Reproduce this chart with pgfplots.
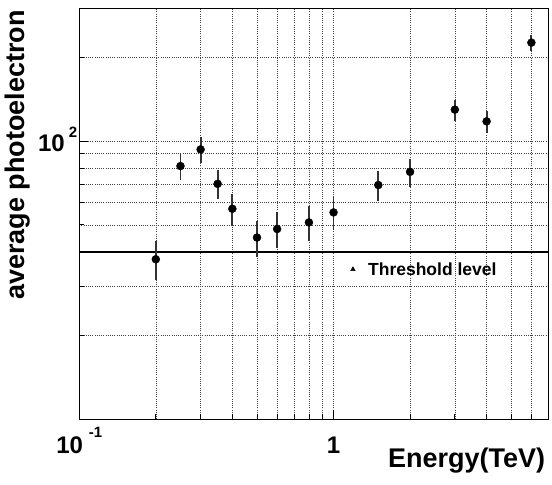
\documentclass[border=0pt]{standalone}
\usepackage{fontspec}
\setmainfont{Liberation Sans}
\usepackage{pgfplots}
\pgfplotsset{compat=1.18}

\newcommand\tickfont{\fontsize{24bp}{24bp}\selectfont\bfseries}
\newcommand\expfont{\fontsize{15bp}{15bp}\selectfont\bfseries}
\newcommand\titlefont{\fontsize{27bp}{27bp}\selectfont\bfseries}
\newcommand\notefont{\fontsize{17.5bp}{17.5bp}\selectfont\bfseries}

% energy (TeV), mean photoelectrons, symmetric error
\pgfplotstableread{
x     y      e
0.2   37.6   6.0
0.25  81.3   8.9
0.3   93.3   9.8
0.35  70.2   8.3
0.4   57.1   7.4
0.5   45.0   6.7
0.6   48.3   7.1
0.8   51.0   7.2
1.0   55.4   7.6
1.5   69.5   8.4
2.0   77.5   9.0
3.0   129.7  11.2
4.0   117.7  11.0
6.0   225.8  15.5
}\pedata

\begin{document}
\begin{tikzpicture}
\begin{axis}[
  at={(0,0)}, anchor=south west,
  scale only axis, width=469.1bp, height=411bp,
  xmode=log, ymode=log,
  xmin=0.1, xmax=7, ymin=10, ymax=300,
  axis line style={line width=1.1bp},
  xtick={0.1,1},
  xticklabels={{10\kern6bp\raisebox{16bp}{\expfont -1}}, 1},
  minor xtick={0.2,0.3,0.4,0.5,0.6,0.7,0.8,0.9,2,3,4,5,6},
  ytick={100},
  yticklabels={{10\kern4bp\raisebox{14bp}{\expfont 2}}},
  minor ytick={20,30,40,50,60,70,80,90,200},
  tick pos=left, tick align=inside,
  major tick length=9bp, minor tick length=5bp,
  tick style={black, line width=0.8bp},
  xmajorgrids, xminorgrids, ymajorgrids, yminorgrids,
  major grid style={black!75, line width=0.6bp, dash pattern=on 0.8bp off 1.4bp},
  minor grid style={black!75, line width=0.6bp, dash pattern=on 0.8bp off 1.4bp},
  ticklabel style={font=\tickfont, inner sep=0pt},
  xticklabel style={anchor=base, yshift=-34bp},
  yticklabel style={anchor=base east, xshift=-2bp, yshift=-10.5bp},
  xlabel={Energy(TeV)},
  ylabel={average photoelectron},
  label style={font=\titlefont, inner sep=0pt},
  xlabel style={at={(rel axis cs:0.9936,-0.1168)}, anchor=base east},
  ylabel style={at={(rel axis cs:-0.1162,0.9959)}, anchor=base east, rotate=0},
  clip=true,
]
% threshold level
\addplot[black, line width=1.8bp] coordinates {(0.1,40) (7,40)};

\addplot[only marks, mark=*, mark size=4bp, black,
  error bars/.cd, y dir=both, y explicit, error mark=none,
  error bar style={line width=1.8bp, black!80}]
  table[x=x, y=y, y error=e] {\pedata};

\addplot[only marks, mark=triangle*, mark size=2.6bp, black]
  coordinates {(1.192,34.6)};
\node[anchor=west, font=\notefont, inner sep=0pt, xshift=15bp]
  at (axis cs:1.192,34.6) {Threshold level};
\end{axis}
\pgfresetboundingbox
\path (-79.3bp,-65.7bp) rectangle (472.7bp,419.3bp);
\end{tikzpicture}
\end{document}
